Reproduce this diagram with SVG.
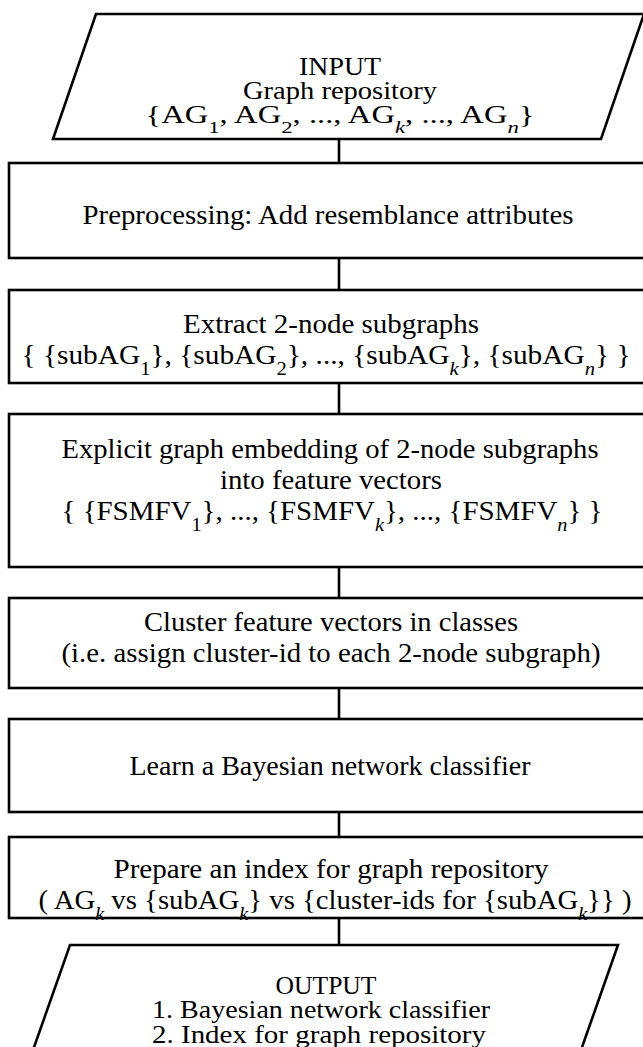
<svg xmlns="http://www.w3.org/2000/svg" width="643" height="1047" viewBox="0 0 643 1047">
<style>
.shape{fill:#fff;stroke:#000;stroke-width:2.6}
.conn{stroke:#000;stroke-width:2.6;fill:none}
text{font-family:"Liberation Serif","DejaVu Serif",serif;font-size:28px;fill:#000}
.p text{font-size:25px}
.m{text-anchor:middle}
.s{font-size:70%;baseline-shift:sub}
.i{font-style:italic}
</style>
<rect width="643" height="1047" fill="#fff"/>
<g id="connectors">
<line class="conn" x1="339" y1="139" x2="339" y2="163"/>
<line class="conn" x1="339" y1="258" x2="339" y2="290"/>
<line class="conn" x1="339" y1="383" x2="339" y2="414"/>
<line class="conn" x1="339" y1="567" x2="339" y2="598"/>
<line class="conn" x1="339" y1="688" x2="339" y2="719"/>
<line class="conn" x1="339" y1="812" x2="339" y2="837"/>
<line class="conn" x1="339" y1="918" x2="339" y2="945"/>
</g>
<g id="input" class="p">
<polygon class="shape" points="96,14 644,14 601,139 53,139"/>
<text class="m" x="340" y="75" textLength="82" lengthAdjust="spacingAndGlyphs">INPUT</text>
<text class="m" x="340" y="99" textLength="194" lengthAdjust="spacingAndGlyphs">Graph repository</text>
<text class="m" x="340" y="123" textLength="389" lengthAdjust="spacingAndGlyphs">{AG<tspan class="s">1</tspan>, AG<tspan class="s">2</tspan>, ..., AG<tspan class="s i">k</tspan>, ..., AG<tspan class="s i">n</tspan>}</text>
</g>
<g id="preprocessing">
<rect class="shape" x="9" y="163" width="660" height="95"/>
<text class="m" x="328" y="224" textLength="491" lengthAdjust="spacingAndGlyphs">Preprocessing: Add resemblance attributes</text>
</g>
<g id="extract">
<rect class="shape" x="9" y="290" width="660" height="93"/>
<text class="m" x="331" y="333" textLength="296" lengthAdjust="spacingAndGlyphs">Extract 2-node subgraphs</text>
<text class="m" x="326" y="364" textLength="609" lengthAdjust="spacingAndGlyphs">{ {subAG<tspan class="s">1</tspan>}, {subAG<tspan class="s">2</tspan>}, ..., {subAG<tspan class="s i">k</tspan>}, {subAG<tspan class="s i">n</tspan>} }</text>
</g>
<g id="embedding">
<rect class="shape" x="9" y="414" width="660" height="153"/>
<text class="m" x="330" y="458" textLength="537" lengthAdjust="spacingAndGlyphs">Explicit graph embedding of 2-node subgraphs</text>
<text class="m" x="331" y="489" textLength="222" lengthAdjust="spacingAndGlyphs">into feature vectors</text>
<text class="m" x="332" y="520" textLength="541" lengthAdjust="spacingAndGlyphs">{ {FSMFV<tspan class="s">1</tspan>}, ..., {FSMFV<tspan class="s i">k</tspan>}, ..., {FSMFV<tspan class="s i">n</tspan>} }</text>
</g>
<g id="cluster">
<rect class="shape" x="9" y="598" width="660" height="90"/>
<text class="m" x="331" y="631" textLength="374" lengthAdjust="spacingAndGlyphs">Cluster feature vectors in classes</text>
<text class="m" x="331" y="662" textLength="539" lengthAdjust="spacingAndGlyphs">(i.e. assign cluster-id to each 2-node subgraph)</text>
</g>
<g id="learn">
<rect class="shape" x="9" y="719" width="660" height="93"/>
<text class="m" x="330" y="775" textLength="401" lengthAdjust="spacingAndGlyphs">Learn a Bayesian network classifier</text>
</g>
<g id="prepare">
<rect class="shape" x="9" y="837" width="660" height="81"/>
<text class="m" x="331" y="878" textLength="435" lengthAdjust="spacingAndGlyphs">Prepare an index for graph repository</text>
<text class="m" x="335" y="909" textLength="593" lengthAdjust="spacingAndGlyphs">( AG<tspan class="s i">k</tspan> vs {subAG<tspan class="s i">k</tspan>} vs {cluster-ids for {subAG<tspan class="s i">k</tspan>}} )</text>
</g>
<g id="output" class="p">
<polygon class="shape" points="70,945 618,945 574,1070 26,1070"/>
<text class="m" x="326" y="994" textLength="101" lengthAdjust="spacingAndGlyphs">OUTPUT</text>
<text x="152" y="1018" textLength="338" lengthAdjust="spacingAndGlyphs">1. Bayesian network classifier</text>
<text x="152" y="1043" textLength="334" lengthAdjust="spacingAndGlyphs">2. Index for graph repository</text>
</g>
</svg>
